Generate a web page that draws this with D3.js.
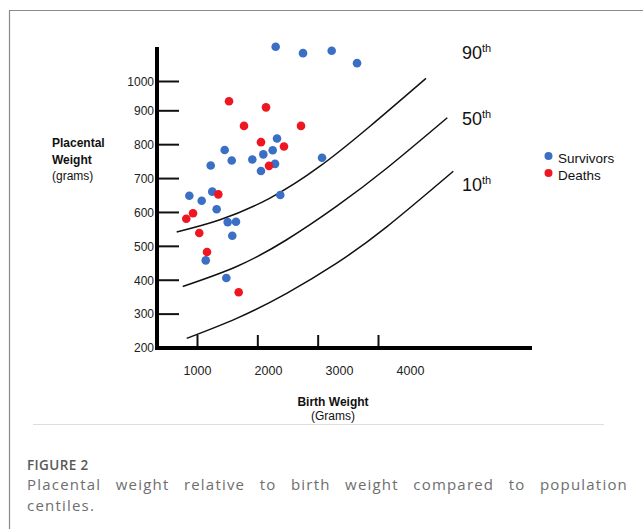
<!DOCTYPE html>
<html>
<head>
<meta charset="utf-8">
<script src="https://cdn.jsdelivr.net/npm/d3@7"></script>
<style>
  html, body { margin: 0; padding: 0; background: #fff; }
  svg { display: block; }
</style>
</head>
<body>
<svg id="chart" width="643" height="529"></svg>
<script>
// ---- data ----
const survivorsX = [2108, 2493, 2897, 3254, 2127, 1390, 1489, 1779, 1934, 2066, 2099, 1901,
                    2761, 1193, 892, 1215, 1066, 1277, 2173, 1432, 1549, 1497, 1123, 1413];
const survivorsY = [1117, 1095, 1103, 1061, 817, 783, 752, 755, 770, 782, 742, 721,
                    760, 737, 648, 660, 633, 608, 650, 570, 571, 530, 457, 405];
const deathsX = [1451, 1972, 1662, 2465, 1901, 2225, 2014, 1300, 944, 849, 1032, 1141, 1587];
const deathsY = [931, 910, 854, 854, 806, 793, 736, 652, 596, 580, 538, 482, 363];

const p90X = [714, 1324, 2028, 2732, 3437, 4225];
const p90Y = [541, 577, 641, 735, 853, 1009];
const p50X = [799, 1559, 2263, 2968, 3672, 4525];
const p50Y = [380, 439, 518, 617, 729, 878];
const p10X = [855, 1559, 2263, 2968, 3672, 4610];
const p10Y = [227, 286, 360, 449, 556, 720];

const centileLabels = ["90", "50", "10"];
const xTickValues = [1000, 2000, 3000, 4000];
const yTickValues = [200, 300, 400, 500, 600, 700, 800, 900, 1000];
const legendLabels = ["Survivors", "Deaths"];

// ---- drawing ----
const svg = d3.select("#chart");
const BLUE = "#3b6fc6", RED = "#ee1620";
const AX = "Liberation Sans, Arial, sans-serif";

// frame
svg.append("path").attr("d", "M9.5,529 V10.5 H643").attr("fill", "none")
  .attr("stroke", "#8a8a8a").attr("stroke-width", 1.2);

const x = d3.scaleLinear().domain([1000, 4000]).range([197, 410]);
const xTickPos = d3.scaleLinear().domain([1000, 4000]).range([197, 378]);
const y = d3.scaleLinear().domain([200, 900, 1000]).range([347.5, 110.3, 81]);

const axisX0 = 157, axisY0 = 348;

// y axis ticks & labels
const yAxis = d3.axisLeft(y).tickValues(yTickValues).tickSizeInner(-22).tickSizeOuter(0)
  .tickPadding(3).tickFormat(d3.format("d"));
const gy = svg.append("g").attr("transform", `translate(${axisX0},0)`).call(yAxis);
gy.select(".domain").remove();
gy.selectAll(".tick line").attr("stroke", "#111").attr("stroke-width", 2);
gy.selectAll(".tick").filter(d => d === 200).select("line").remove();
gy.selectAll(".tick text").attr("font-family", AX).attr("font-size", 12).attr("fill", "#222")
  .attr("dy", "0.36em");

// x axis tick marks
const xAxisTicks = d3.axisBottom(xTickPos).tickValues(xTickValues).tickSizeInner(-13).tickSizeOuter(0).tickFormat("");
const gxt = svg.append("g").attr("transform", `translate(0,${axisY0})`).call(xAxisTicks);
gxt.select(".domain").remove();
gxt.selectAll(".tick line").attr("stroke", "#111").attr("stroke-width", 2);

// x axis labels
const xAxisLabels = d3.axisBottom(x).tickValues(xTickValues).tickSize(0).tickPadding(0).tickFormat(d3.format("d"));
const gxl = svg.append("g").attr("transform", `translate(0,${axisY0})`).call(xAxisLabels);
gxl.select(".domain").remove();
gxl.selectAll(".tick text").attr("font-family", AX).attr("font-size", 12.5).attr("fill", "#222")
  .attr("y", 27).attr("dy", 0);

// thick axis lines
svg.append("line").attr("x1", axisX0).attr("x2", axisX0).attr("y1", 47).attr("y2", axisY0 + 2)
  .attr("stroke", "#000").attr("stroke-width", 4);
svg.append("line").attr("x1", axisX0 - 2).attr("x2", 532).attr("y1", axisY0).attr("y2", axisY0)
  .attr("stroke", "#000").attr("stroke-width", 4);

// centile curves
const line = d3.line().x(d => x(d[0])).y(d => y(d[1])).curve(d3.curveNatural);
[[p90X, p90Y], [p50X, p50Y], [p10X, p10Y]].forEach(([cx, cy]) => {
  svg.append("path").datum(cx.map((v, i) => [v, cy[i]])).attr("d", line)
    .attr("fill", "none").attr("stroke", "#111").attr("stroke-width", 1.5);
});

// centile labels
const labelY = [58.5, 124.5, 191];
centileLabels.forEach((t, i) => {
  const tx = svg.append("text").attr("x", 462).attr("y", labelY[i])
    .attr("font-family", AX).attr("font-size", 18).attr("fill", "#111");
  tx.append("tspan").text(t);
  tx.append("tspan").attr("font-size", 11).attr("dy", -7).text("th");
});

// points
svg.append("g").selectAll("circle").data(survivorsX.map((v, i) => [v, survivorsY[i]]))
  .join("circle").attr("cx", d => x(d[0])).attr("cy", d => y(d[1])).attr("r", 4.3).attr("fill", BLUE);
svg.append("g").selectAll("circle").data(deathsX.map((v, i) => [v, deathsY[i]]))
  .join("circle").attr("cx", d => x(d[0])).attr("cy", d => y(d[1])).attr("r", 4.3).attr("fill", RED);

// legend
const legColors = [BLUE, RED];
legendLabels.forEach((t, i) => {
  const yy = 156 + i * 17;
  svg.append("circle").attr("cx", 548.5).attr("cy", yy).attr("r", 4).attr("fill", legColors[i]);
  svg.append("text").attr("x", 558).attr("y", yy + 6.5).attr("font-family", AX)
    .attr("font-size", 13.5).attr("fill", "#111").text(t);
});

// y axis title
const yt = svg.append("text").attr("font-family", AX).attr("font-size", 12).attr("fill", "#111");
yt.append("tspan").attr("x", 52).attr("y", 147).attr("font-weight", "bold").text("Placental");
yt.append("tspan").attr("x", 52).attr("y", 163.5).attr("font-weight", "bold").text("Weight");
yt.append("tspan").attr("x", 52).attr("y", 179.5).text("(grams)");

// x axis title
svg.append("text").attr("x", 333).attr("y", 406).attr("text-anchor", "middle").attr("font-family", AX)
  .attr("font-size", 12).attr("font-weight", "bold").attr("fill", "#111").text("Birth Weight");
svg.append("text").attr("x", 333).attr("y", 419.5).attr("text-anchor", "middle").attr("font-family", AX)
  .attr("font-size", 12).attr("fill", "#111").text("(Grams)");

// separator
svg.append("line").attr("x1", 33).attr("x2", 604).attr("y1", 424.5).attr("y2", 424.5)
  .attr("stroke", "#dddddd").attr("stroke-width", 1);

// caption
const CAP = "Open Sans, sans-serif";
svg.append("text").attr("x", 27).attr("y", 470).attr("font-family", CAP).attr("font-size", 13.5)
  .attr("font-weight", 600).attr("fill", "#5a5a5a").attr("letter-spacing", 0.4).text("FIGURE 2");
const l1 = svg.append("text").attr("x", 27).attr("y", 490).attr("font-family", CAP).attr("font-size", 15)
  .attr("fill", "#6e6e6e").attr("letter-spacing", 1.2)
  .text("Placental weight relative to birth weight compared to population");
const natural = l1.node().getComputedTextLength();
const gaps = l1.text().split(" ").length - 1;
l1.attr("word-spacing", Math.max(0, (601 - natural) / gaps));
svg.append("text").attr("x", 27).attr("y", 510.5).attr("font-family", CAP).attr("font-size", 15)
  .attr("fill", "#6e6e6e").attr("letter-spacing", 1.2).text("centiles.");
</script>
</body>
</html>
